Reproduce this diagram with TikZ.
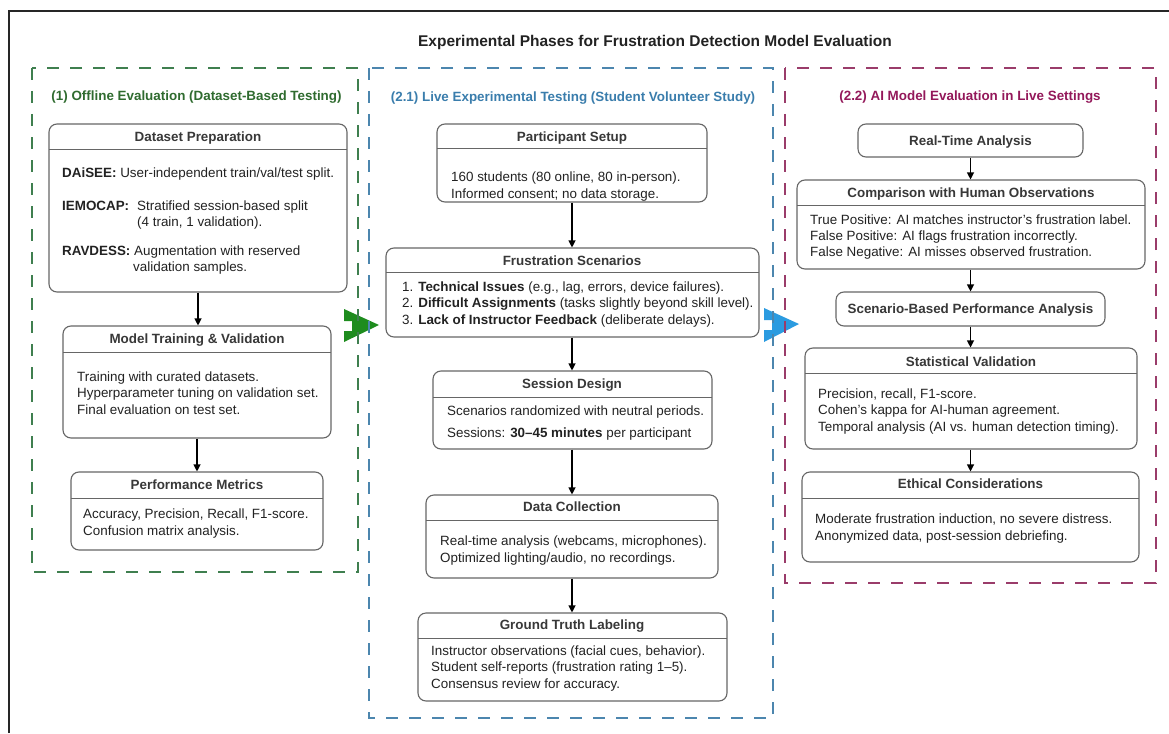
\documentclass[tikz,border=0pt]{standalone}
\usepackage{fontspec}
\setmainfont{Liberation Sans}
\usetikzlibrary{arrows.meta}

\definecolor{ink}{HTML}{222222}
\definecolor{boxline}{HTML}{666666}
\definecolor{grpgreen}{HTML}{3F7F4F}
\definecolor{ttlgreen}{HTML}{2F6B2F}
\definecolor{grpblue}{HTML}{4C86AE}
\definecolor{ttlblue}{HTML}{3A7DAC}
\definecolor{grpmag}{HTML}{9A3C6A}
\definecolor{ttlmag}{HTML}{93185A}
\definecolor{bigsgreen}{HTML}{1E8C1E}
\definecolor{bigblue}{HTML}{2B9BE0}

\newcommand\txtfont{\fontsize{13.4}{16}\selectfont}

% rounded panel from its left, top, right and bottom edges
\newcommand\mkpanel[5]{%
  \node[panel, minimum width={(#4-#2)*1pt}, minimum height={(#5-#3)*1pt}]
    (#1) at ({(#2+#4)/2},{(#3+#5)/2}) {};}
% horizontal rule under a panel heading: left, right, y
\newcommand\mkrule[3]{\draw[rulel] (#1,#3) -- (#2,#3);}

\tikzset{
  panel/.style={draw=boxline, line width=1.1pt, rounded corners=8pt, fill=white, inner sep=0pt},
  rulel/.style={draw=boxline, line width=1pt},
  hdr/.style={font=\txtfont\bfseries, text=ink!90, inner sep=0pt, text height=9.6pt, text depth=0pt},
  ln/.style={anchor=west, font=\txtfont, text=ink, inner sep=0pt, text height=9.6pt, text depth=0pt},
  grp/.style={line width=1.3pt, dash pattern=on 12pt off 11pt},
  gttl/.style={font=\txtfont\bfseries, inner sep=0pt, text height=9.6pt, text depth=0pt},
  flow/.style={-{Triangle[length=7pt,width=7pt]}, line width=1.1pt, draw=black},
}

\begin{document}
\begin{tikzpicture}[x=1pt, y=-1pt]
\useasboundingbox (0,0) rectangle (1169,733);

% outer frame
\draw[line width=1.2pt, black!85] (9,733) -- (9,11) -- (1169,11);

\node[font=\fontsize{15.5}{18}\selectfont\bfseries, text=ink, inner sep=0pt] (title) at (655,42)
  {Experimental Phases for Frustration Detection Model Evaluation};

% transition arrows between phases
\fill[bigsgreen] (344,309) -- (379,325) -- (344,342) -- (344,331) -- (352,331) -- (352,321) -- (344,321) -- cycle;
\fill[bigblue] (764,308) -- (799,324) -- (764,342) -- (764,330) -- (772,330) -- (772,320) -- (764,320) -- cycle;

% phase frames
\draw[grp, draw=grpgreen] (32,68) rectangle (358,572);
\draw[grp, draw=grpblue] (369,68) rectangle (773,718);
\draw[grp, draw=grpmag] (785,68) rectangle (1156,583);

\node[gttl, text=ttlgreen] (g1) at (196.5,96) {(1) Offline Evaluation (Dataset-Based Testing)};
\node[gttl, text=ttlblue] (g2) at (573,97) {(2.1) Live Experimental Testing (Student Volunteer Study)};
\node[gttl, text=ttlmag] (g3) at (970,96) {(2.2) AI Model Evaluation in Live Settings};

% ---------- phase 1 ----------
\mkpanel{dp}{49}{124}{347}{292}
\mkrule{49}{347}{149}
\node[hdr] (dph) at (198,137) {Dataset Preparation};
\node[ln] (dp1) at (62,173) {\textbf{DAiSEE:} User-independent train/val/test split.};
\node[ln] (dp2) at (62,206) {\textbf{IEMOCAP:}};
\node[ln] (dp3) at (137,206) {Stratified session-based split};
\node[ln] (dp4) at (137,222) {(4 train, 1 validation).};
\node[ln] (dp5) at (62,251) {\textbf{RAVDESS:} Augmentation with reserved};
\node[ln] (dp6) at (133,267) {validation samples.};

\mkpanel{mt}{63}{326}{331}{438}
\mkrule{63}{331}{352}
\node[hdr] (mth) at (197,339) {Model Training \& Validation};
\node[ln] (mt1) at (77,377) {Training with curated datasets.};
\node[ln] (mt2) at (77,393) {Hyperparameter tuning on validation set.};
\node[ln] (mt3) at (77,410) {Final evaluation on test set.};

\mkpanel{pm}{71}{472}{323}{550}
\mkrule{71}{323}{498}
\node[hdr] (pmh) at (197,485) {Performance Metrics};
\node[ln] (pm1) at (83,514) {Accuracy, Precision, Recall, F1-score.};
\node[ln] (pm2) at (83,531) {Confusion matrix analysis.};

\draw[flow] (dp.south) -- (dp.south |- mt.north);
\draw[flow] (mt.south) -- (mt.south |- pm.north);

% ---------- phase 2.1 ----------
\mkpanel{ps}{437}{124}{707}{202}
\mkrule{437}{707}{148}
\node[hdr] (psh) at (572,137) {Participant Setup};
\node[ln] (ps1) at (451,177) {160 students (80 online, 80 in-person).};
\node[ln] (ps2) at (451,194) {Informed consent; no data storage.};

\mkpanel{fs}{386}{248}{759}{337}
\mkrule{386}{759}{272}
\node[hdr] (fsh) at (572,261) {Frustration Scenarios};
\node[ln] (fs1) at (402,287) {1. \textbf{Technical Issues} (e.g., lag, errors, device failures).};
\node[ln] (fs2) at (402,303) {2. \textbf{Difficult Assignments} (tasks slightly beyond skill level).};
\node[ln] (fs3) at (402,320) {3. \textbf{Lack of Instructor Feedback} (deliberate delays).};

\mkpanel{sd}{433}{371}{712}{449}
\mkrule{433}{712}{397}
\node[hdr] (sdh) at (572,384) {Session Design};
\node[ln] (sd1) at (447,411) {Scenarios randomized with neutral periods.};
\node[ln] (sd2) at (447,433) {Sessions: \textbf{30–45 minutes} per participant};

\mkpanel{dc}{426}{495}{718}{578}
\mkrule{426}{718}{520}
\node[hdr] (dch) at (572,507) {Data Collection};
\node[ln] (dc1) at (440,541) {Real-time analysis (webcams, microphones).};
\node[ln] (dc2) at (440,558) {Optimized lighting/audio, no recordings.};

\mkpanel{gt}{418}{613}{727}{701}
\mkrule{418}{727}{638}
\node[hdr] (gth) at (572,625) {Ground Truth Labeling};
\node[ln] (gt1) at (431,651) {Instructor observations (facial cues, behavior).};
\node[ln] (gt2) at (431,667) {Student self-reports (frustration rating 1–5).};
\node[ln] (gt3) at (431,684) {Consensus review for accuracy.};

\draw[flow] (ps.south) -- (ps.south |- fs.north);
\draw[flow] (ps.south |- fs.south) -- (ps.south |- sd.north);
\draw[flow] (ps.south |- sd.south) -- (ps.south |- dc.north);
\draw[flow] (ps.south |- dc.south) -- (ps.south |- gt.north);

% ---------- phase 2.2 ----------
\mkpanel{rt}{858}{124}{1083}{157}
\node[hdr] (rth) at (970.5,141) {Real-Time Analysis};

\mkpanel{cmp}{797}{180}{1145}{269}
\mkrule{797}{1145}{205}
\node[hdr] (cmph) at (971,193) {Comparison with Human Observations};
\node[ln] (cmp1) at (810,220) {True Positive: AI matches instructor's frustration label.};
\node[ln] (cmp2) at (810,236) {False Positive: AI flags frustration incorrectly.};
\node[ln] (cmp3) at (810,252) {False Negative: AI misses observed frustration.};

\mkpanel{sb}{836}{292}{1105}{326}
\node[hdr] (sbh) at (970.5,309) {Scenario-Based Performance Analysis};

\mkpanel{sv}{805}{348}{1137}{449}
\mkrule{805}{1137}{373}
\node[hdr] (svh) at (971,362) {Statistical Validation};
\node[ln] (sv1) at (818,394) {Precision, recall, F1-score.};
\node[ln] (sv2) at (818,410) {Cohen's kappa for AI-human agreement.};
\node[ln] (sv3) at (818,427) {Temporal analysis (AI vs. human detection timing).};

\mkpanel{ec}{802}{472}{1139}{562}
\mkrule{802}{1139}{498}
\node[hdr] (ech) at (970.5,484) {Ethical Considerations};
\node[ln] (ec1) at (815,519) {Moderate frustration induction, no severe distress.};
\node[ln] (ec2) at (815,536) {Anonymized data, post-session debriefing.};

\draw[flow] (rt.south) -- (rt.south |- cmp.north);
\draw[flow] (rt.south |- cmp.south) -- (rt.south |- sb.north);
\draw[flow] (rt.south |- sb.south) -- (rt.south |- sv.north);
\draw[flow] (rt.south |- sv.south) -- (rt.south |- ec.north);
\end{tikzpicture}
\end{document}
